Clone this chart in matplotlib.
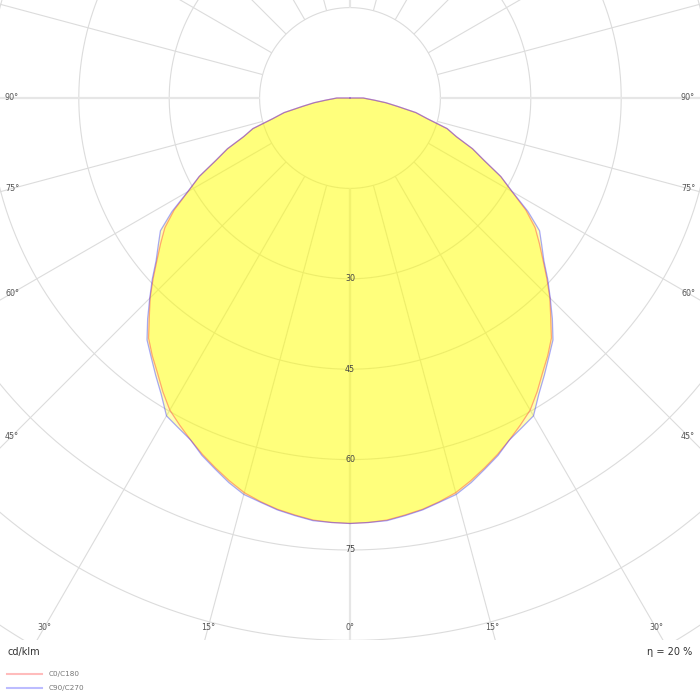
import numpy as np
import matplotlib
matplotlib.use("Agg")
import matplotlib.pyplot as plt

plt.rcParams["font.family"] = ["DejaVu Sans"]

# ------------------------------------------------------------
# Luminous intensity (cd/klm) vs. gamma angle, symmetric curves
# ------------------------------------------------------------
ANGLES = [0, 2.5, 5, 7.5, 10, 12.5, 15, 17.5, 20, 22.5, 25, 27.5, 30, 32.5,
          35, 37.5, 40, 42.5, 45, 47.5, 50, 52.5, 55, 57.5, 60, 62.5, 65,
          67.5, 70, 72.5, 75, 77.5, 80, 82.5, 85, 87.5, 90, 180]
I_C0_C180 = [70.6, 70.5, 70.3, 69.8, 69.3, 68.6, 67.8, 66.6, 65.3, 64.0,
             62.6, 61.2, 59.8, 57.8, 55.7, 53.9, 52.0, 49.3, 46.9, 44.3,
             41.8, 39.6, 37.5, 34.6, 31.0, 28.2, 24.6, 22.0, 18.8, 16.9,
             13.3, 11.2, 8.0, 6.0, 4.0, 2.8, 2.2, 0.0]
I_C90_C270 = [70.6, 70.5, 70.4, 69.9, 69.4, 68.7, 68.1, 66.9, 65.5, 64.2,
              62.6, 61.7, 60.9, 58.3, 56.2, 54.2, 52.4, 49.7, 47.0, 44.5,
              42.0, 40.1, 38.4, 35.0, 31.1, 28.2, 24.6, 22.0, 18.8, 16.9,
              13.3, 11.2, 8.0, 6.0, 4.0, 2.8, 2.2, 0.0]

RING_VALUES = [15, 30, 45, 60, 75, 90, 105, 120]
RING_LABELS = ["30", "45", "60", "75"]
ANGLE_LABELS = [0, 15, 30, 45, 60, 75, 90]
CURVE_NAMES = ["C0/C180", "C90/C270"]
ETA = "η = 20 %"
UNIT = "cd/klm"

COL_RED = "#ff4040"
COL_BLUE = "#4040ff"
COL_FILL = "#ffff00"
GRID = "#dcdcdc"
GRID_MAIN = "#e6e6e6"

W, H = 700, 700
PLOT_H = 640          # pixel height of the diagram area
CX, CY = 350, 98      # pixel position of the centre
PX_PER_UNIT = 90.4 / 15


def to_xy(theta_deg, r):
    t = np.radians(theta_deg)
    return r * np.sin(t), -r * np.cos(t)


fig = plt.figure(figsize=(W / 100, H / 100), dpi=100)
ax = fig.add_axes([0, (H - PLOT_H) / H, 1, PLOT_H / H])
ax.set_xlim(-CX / PX_PER_UNIT, (W - CX) / PX_PER_UNIT)
ax.set_ylim(-(PLOT_H - CY) / PX_PER_UNIT, CY / PX_PER_UNIT)
ax.set_aspect("equal")
ax.axis("off")

# rings
phi = np.linspace(0, 2 * np.pi, 721)
for r in RING_VALUES:
    ax.plot(r * np.cos(phi), r * np.sin(phi), color=GRID, lw=0.8, zorder=1)

# radial lines every 15 degrees, starting at the inner ring
for a in range(0, 360, 15):
    x0, y0 = to_xy(a, RING_VALUES[0])
    x1, y1 = to_xy(a, 200)
    main = a % 90 == 0
    ax.plot([x0, x1], [y0, y1], color=GRID_MAIN if main else GRID,
            lw=1.6 if main else 0.8, zorder=1, solid_capstyle="butt")

# curves
angles = np.array(ANGLES, dtype=float)
for vals, col, name in [(I_C0_C180, COL_RED, CURVE_NAMES[0]),
                        (I_C90_C270, COL_BLUE, CURVE_NAMES[1])]:
    v = np.array(vals)
    full_a = np.concatenate([-angles[::-1], angles[1:]])
    full_v = np.concatenate([v[::-1], v[1:]])
    x, y = to_xy(full_a, full_v)
    ax.fill(x, y, color=COL_FILL, alpha=0.3, lw=0, zorder=2)
    ax.plot(x, y, color=col, alpha=0.45, lw=0.9, zorder=3)

# ring labels along the 0 deg axis
for lab in RING_LABELS:
    ax.text(0, -float(lab), lab, ha="center", va="center",
            fontsize=5.8, color="#444444", zorder=5)

# angle labels where the rays meet the frame
half_w = (CX - 12) / PX_PER_UNIT
depth = (628 - CY) / PX_PER_UNIT
for a in ANGLE_LABELS:
    t = np.radians(a)
    dist = min(half_w / np.sin(t) if a else 1e9, depth / np.cos(t) if a != 90 else 1e9)
    for sgn in ([1] if a == 0 else [-1, 1]):
        x, y = to_xy(sgn * a, dist)
        ax.text(x, y, f"{a}°", ha="center", va="center",
                fontsize=5.8, color="#555555", zorder=5)

# footer texts
fig.text(8 / W, 1 - 652 / H, UNIT, ha="left", va="center", fontsize=7, color="#333333")
fig.text(692 / W, 1 - 652 / H, ETA, ha="right", va="center", fontsize=7, color="#333333")

leg_y = [674, 688]
for yy, col, name in zip(leg_y, [COL_RED, COL_BLUE], CURVE_NAMES):
    fig.add_artist(plt.Line2D([7 / W, 42 / W], [1 - yy / H, 1 - yy / H],
                              color=col, alpha=0.35, lw=1.5))
    fig.text(49 / W, 1 - yy / H, name, ha="left", va="center",
             fontsize=5.2, color="#777777")

fig.savefig("out.png", dpi=100, facecolor="white")
